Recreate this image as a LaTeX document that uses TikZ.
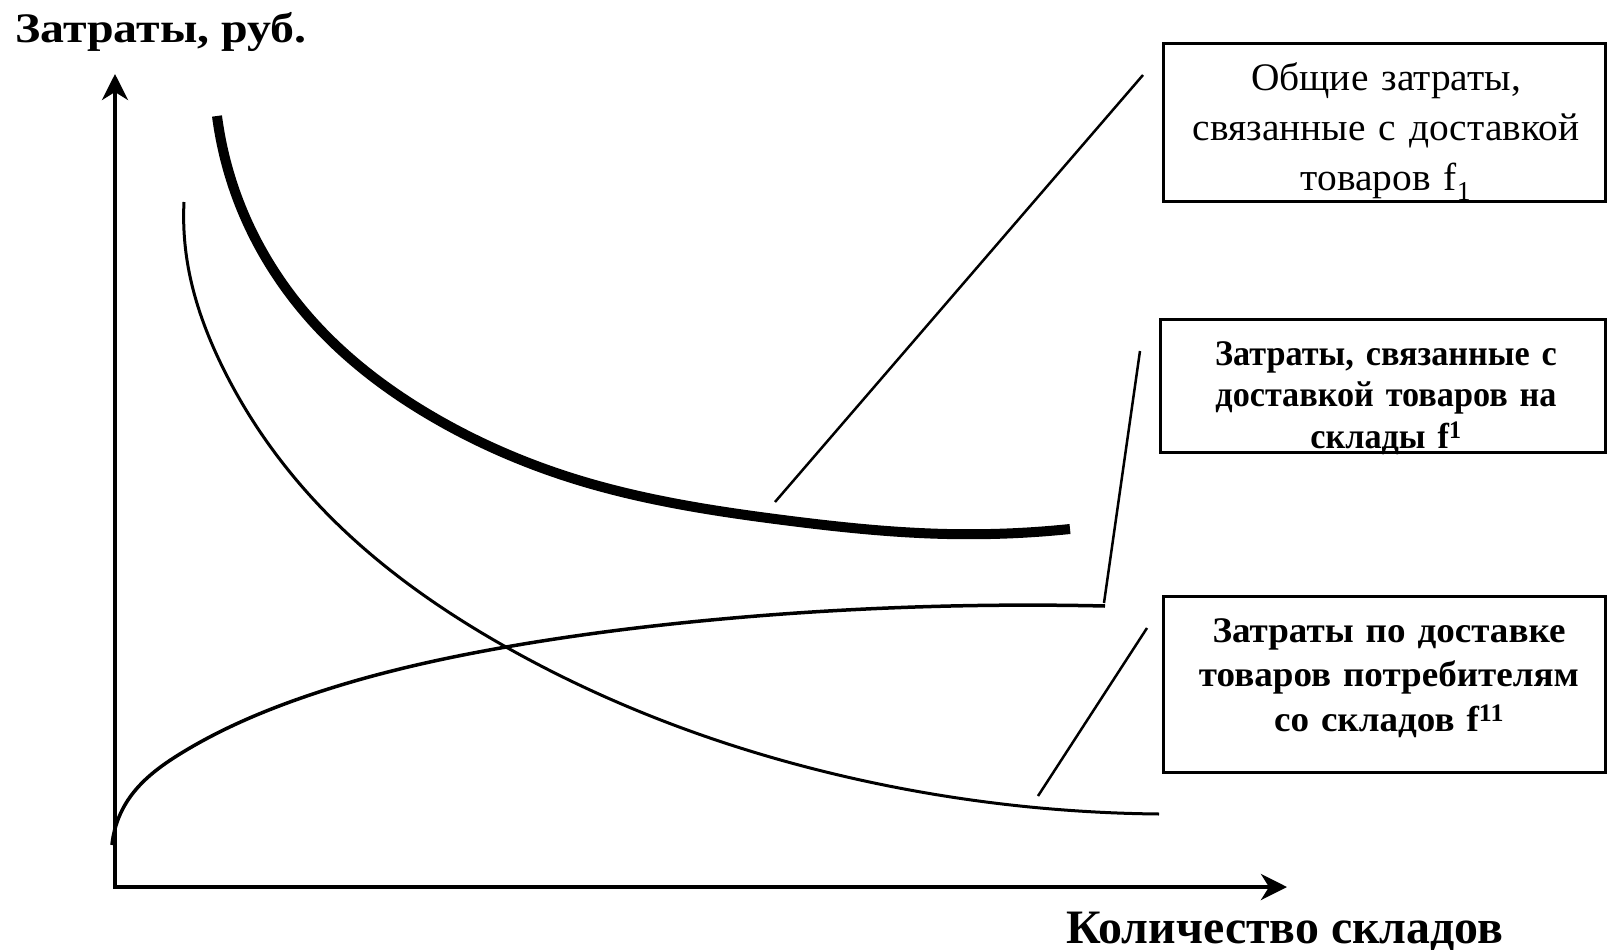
\documentclass[tikz,border=0pt]{standalone}
\usepackage{fontspec}
\setmainfont{Liberation Serif}
\newfontfamily\fontA[FakeStretch=1.01]{Liberation Serif}
\newfontfamily\fontT[FakeStretch=1.14]{Liberation Serif}
\newfontfamily\fontX[FakeStretch=0.997]{Liberation Serif}
\newfontfamily\fontB[FakeStretch=0.95]{Liberation Serif}
\newfontfamily\fontC[FakeStretch=1.03]{Liberation Serif}
\usetikzlibrary{arrows.meta,hobby}
\begin{document}
\begin{tikzpicture}[x=1pt,y=-1pt,
  axisline/.style={line width=4pt, line join=miter,
    {Stealth[length=26pt,width=26pt,inset=8pt]}-{Stealth[length=26pt,width=26pt,inset=8pt]}},
  infobox/.style={draw, line width=3pt, anchor=north west, outer sep=0pt, inner sep=0pt},
  boxtext/.style={anchor=base, align=center, inner sep=0pt, text width=440pt},
  leader/.style={line width=2.5pt},
  thincurve/.style={line width=3pt, use Hobby shortcut},
  thickcurve/.style={line width=10pt, use Hobby shortcut},
  lbl/.style={anchor=base west, inner sep=0pt}]
\useasboundingbox (0,0) rectangle (1607,950);

% axes
\coordinate (O) at (115,887);
\coordinate (Ytip) at (115,74);
\coordinate (Xtip) at (1287,887);
\draw[axisline] (Ytip) -- (O) -- (Xtip);

\node[lbl, font=\fontT\bfseries\fontsize{42}{48}\selectfont] (ylab) at (15,43) {Затраты, руб.};
\node[lbl, font=\fontX\bfseries\fontsize{48}{54}\selectfont] (xlab) at (1066,943) {Количество складов};

% curves
\draw[thickcurve] (217,116) .. (245,217) .. (314,323) .. (433,417) .. (578,480) .. (783,520) .. (947,534) .. (1070,529);
\draw[thincurve] (184,202) .. (187,260) .. (222.5,367) .. (314,500) .. (506,647) .. (847,777) .. (1159,814);
\draw[thincurve, line width=3.5pt] (112,845) .. (128,800) .. (181.5,753) .. (304,697) .. (506,647) .. (711,620) .. (915,607) .. (1105,606);

% boxes
\node[infobox, minimum width=442pt, minimum height=157pt] (b1) at (1163,44) {};
\node[infobox, minimum width=445pt, minimum height=133pt] (b2) at (1160,319) {};
\node[infobox, minimum width=442pt, minimum height=176pt] (b3) at (1163,596) {};

\node[boxtext, font=\fontA\fontsize{39}{50}\selectfont] (t1) at (1386,91)
  {Общие затраты,\\ связанные с доставкой\\ товаров f\textsubscript{1}};
\node[boxtext, font=\fontB\bfseries\fontsize{36}{41.5}\selectfont] (t2) at (1386,365)
  {Затраты, связанные с\\ доставкой товаров на\\ склады f\textsuperscript{1}};
\node[boxtext, font=\fontC\bfseries\fontsize{36}{44.5}\selectfont] (t3) at (1389,642)
  {Затраты по доставке\\ товаров потребителям\\ со складов f\textsuperscript{11}};

% leader lines
\coordinate (l1a) at (1143,75);  \coordinate (l1b) at (775,502);
\coordinate (l2a) at (1140,351); \coordinate (l2b) at (1104,603);
\coordinate (l3a) at (1147,628); \coordinate (l3b) at (1038,796);
\draw[leader] (l1a) -- (l1b);
\draw[leader] (l2a) -- (l2b);
\draw[leader] (l3a) -- (l3b);
\end{tikzpicture}
\end{document}
